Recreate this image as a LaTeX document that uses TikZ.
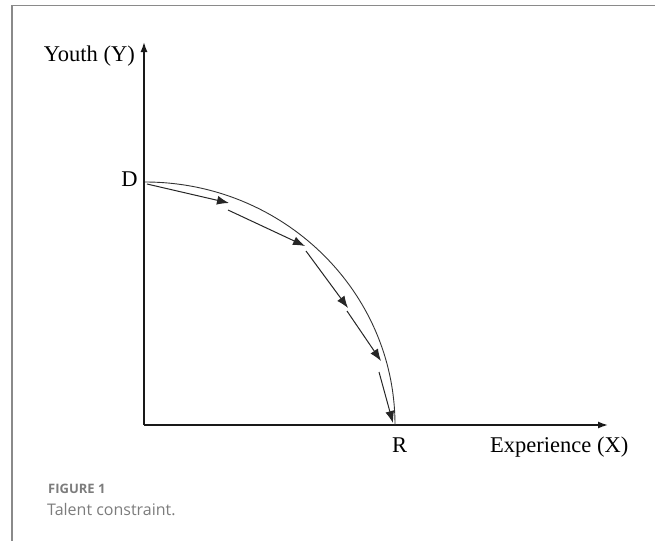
\documentclass[tikz,border=0pt]{standalone}
\usepackage{fontspec}
\setmainfont{Liberation Serif}
\newfontfamily\capfont{Open Sans}
\usetikzlibrary{arrows.meta}
\definecolor{framegray}{HTML}{8A8A8A}
\definecolor{capgray}{HTML}{7C7C7C}
\begin{document}
\begin{tikzpicture}[x=1pt,y=-1pt,
  axis/.style={line width=1.5pt,black!90,-{Latex[length=10pt,width=7pt]}},
  flow/.style={line width=1pt,black!85,-{Latex[length=12pt,width=9pt]}},
  lbl/.style={font=\fontsize{22.5}{26}\selectfont,inner sep=0pt,text=black},
  frame/.style={line width=1.6pt,framegray}]
\useasboundingbox (0,0) rectangle (655,541);
% frame
\coordinate (ftop) at (655,5.5);
\coordinate (fcorner) at (12,5.5);
\coordinate (fbot) at (12,541);
\draw[frame] (ftop) -- (fcorner) -- (fbot);
% axes
\coordinate (O) at (144,425);
\coordinate (Ytop) at (144,42);
\coordinate (Xend) at (608,425);
\draw[axis] (O) -- (Ytop);
\draw[axis] (O) -- (Xend);
% labels
\node[lbl,anchor=base east] (ylab) at (135,61) {Youth (Y)};
\node[lbl,anchor=base] (dlab) at (129.5,186) {D};
\node[lbl,anchor=base] (rlab) at (399.5,452) {R};
\node[lbl,anchor=base west] (xlab) at (490,452) {Experience (X)};
% frontier curve
\coordinate (Dp) at (145,182);
\coordinate (Rp) at (395,425);
\draw[line width=0.9pt,black!80] (Dp) .. controls (283,182) and (395,291) .. (Rp);
% arrows
\coordinate (a0) at (147,184);
\coordinate (a1) at (229,203);
\coordinate (b0) at (228,210);
\coordinate (b1) at (305,246);
\coordinate (c0) at (306,251);
\coordinate (c1) at (348,308);
\coordinate (d0) at (347,311);
\coordinate (d1) at (381,361);
\coordinate (e0) at (379,372);
\coordinate (e1) at (393,423);
\draw[flow] (a0) -- (a1);
\draw[flow] (b0) -- (b1);
\draw[flow] (c0) -- (c1);
\draw[flow] (d0) -- (d1);
\draw[flow] (e0) -- (e1);
% caption
\node[anchor=base west,inner sep=0pt,font=\capfont\bfseries\fontsize{13}{15}\selectfont,text=capgray] (fig) at (48,493) {FIGURE 1};
\node[anchor=base west,inner sep=0pt,font=\capfont\fontsize{16}{18}\selectfont,text=capgray] (cap) at (47,515) {Talent constraint.};
\end{tikzpicture}
\end{document}
